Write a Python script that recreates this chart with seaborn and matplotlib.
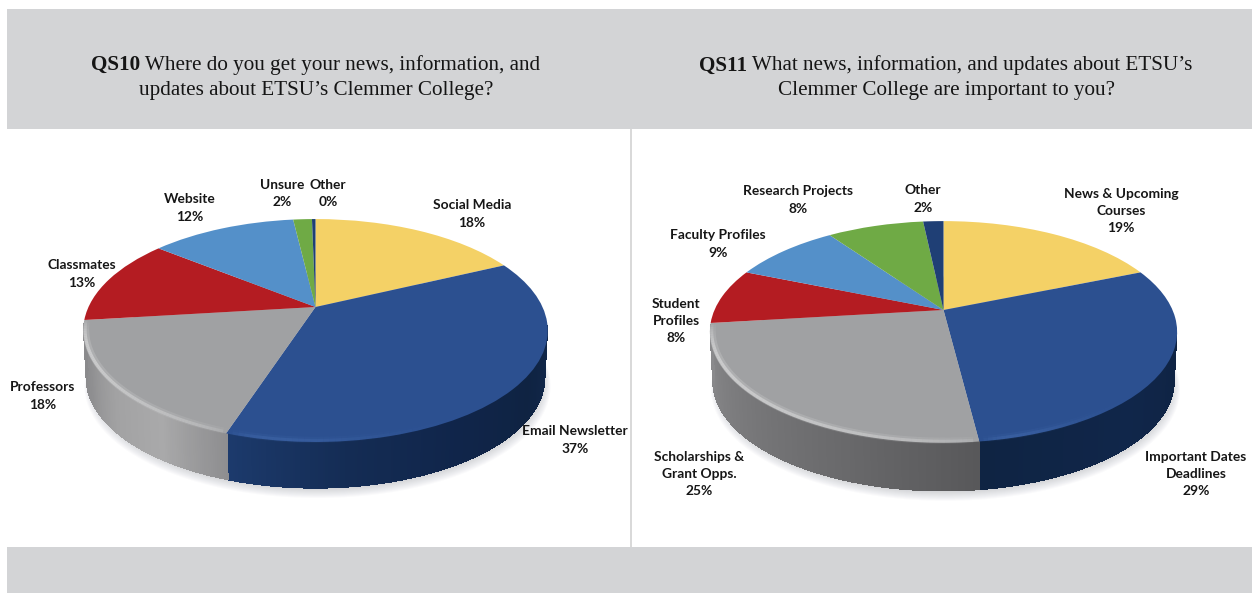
import numpy as np
import matplotlib
matplotlib.use("Agg")
import matplotlib.pyplot as plt
from matplotlib.collections import LineCollection, PolyCollection
from matplotlib.patches import Circle, Rectangle
from matplotlib.transforms import Transform
import seaborn as sns

# Survey results, clockwise from twelve o'clock
qs10_categories = ["Social Media", "Email Newsletter", "Professors", "Classmates",
                   "Website", "Unsure", "Other"]
qs10_values = [18.0, 37.1, 18.0, 12.6, 12.4, 1.6, 0.3]

qs11_categories = ["News & Upcoming\nCourses", "Important Dates\nDeadlines",
                   "Scholarships &\nGrant Opps.", "Student\nProfiles",
                   "Faculty Profiles", "Research Projects", "Other"]
qs11_values = [18.8, 29.2, 25.1, 8.1, 9.0, 8.1, 1.7]

qs10_question = ["QS10", " Where do you get your news, information, and",
                 "updates about ETSU\u2019s Clemmer College?"]
qs11_question = ["QS11", " What news, information, and updates about ETSU\u2019s",
                 "Clemmer College are important to you?"]

slice_colors = sns.color_palette(["#f4d166", "#2c5090", "#a0a1a3", "#b41c22",
                                  "#5490c9", "#6faa45", "#1f3f75"])

W, H = 1252, 593
sns.set_theme(style="white")
plt.rcParams["font.family"] = ["Lato", "DejaVu Sans"]


class TiltedDisc(Transform):
    """Perspective view of the unit disc, returned in pixel coordinates."""
    input_dims = 2
    output_dims = 2
    has_inverse = False

    def __init__(self, cx, cy, a, b, k, drop=0.0, scale=1.0, nudge=0.0):
        super().__init__()
        self.cx, self.cy, self.a, self.b, self.k = cx, cy, a, b, k
        self.drop, self.scale, self.nudge = drop, scale, nudge

    def transform_non_affine(self, values):
        xy = np.asarray(values, dtype=float)
        w = 1 + self.k * xy[:, 1]
        return np.column_stack([
            self.cx + self.nudge + self.scale * self.a * xy[:, 0] / w,
            self.cy + self.drop - self.scale * self.b * xy[:, 1] / w,
        ])


def rim(theta_deg):
    t = np.radians(theta_deg)
    return np.column_stack([np.sin(t), np.cos(t)])


def draw_disc(ax, values, cats, disc, depth, wall_stops, label_xy, bevel):
    top = TiltedDisc(*disc)
    inner = TiltedDisc(*disc, scale=0.996)
    base = TiltedDisc(*disc, drop=depth, scale=0.985)

    # Soft shadow under the disc, thrown slightly down and to the right
    for i in range(12):
        shadow = TiltedDisc(*disc, drop=depth + 2 + i * 0.55, scale=0.965 + i * 0.0035, nudge=2)
        ax.add_patch(Circle((0, 0), 1, color="#6f7480", alpha=0.03, lw=0, zorder=1,
                            transform=shadow + ax.transData, clip_on=False))

    wedges, _ = ax.pie(values, startangle=90, counterclock=False, colors=slice_colors,
                       wedgeprops={"linewidth": 0, "zorder": 3})
    for w in wedges:
        w.set_transform(top + ax.transData)

    edges = np.cumsum([0] + list(values)) / sum(values) * 360

    # Side wall, shaded slice by slice; it stops where the rim turns out of view
    for i, stops in wall_stops.items():
        t0, t1 = max(edges[i], 100), min(edges[i + 1], 262)
        n = max(int(t1 - t0) * 2, 2)
        shades = sns.blend_palette(stops, n)
        ths = np.linspace(t0, t1, n + 1)
        upper = inner.transform_non_affine(rim(ths))
        lower = base.transform_non_affine(rim(ths))
        polys = [np.vstack([upper[j], upper[j + 1], lower[j + 1], lower[j]]) for j in range(n)]
        ax.add_collection(PolyCollection(polys, facecolors=shades, edgecolors=shades,
                                         linewidths=1.0, antialiaseds=False, zorder=2))

    # Bevel highlight along the front edge of the top face
    for i, (col, lo, hi, power) in bevel.items():
        t0, t1 = max(edges[i], 100), min(edges[i + 1], 264)
        ths = np.linspace(t0, t1, 80)
        rgba = np.tile(matplotlib.colors.to_rgba(col), (79, 1))
        fade = np.linspace(0, 1, 79) ** power * (1 - np.linspace(0, 1, 79) ** 12)
        for lw, inset, weight in [(4.5, 0.988, 0.3), (2.2, 0.992, 0.7)]:
            pts = TiltedDisc(*disc, drop=-0.5, scale=inset).transform_non_affine(rim(ths))
            segs = np.stack([pts[:-1], pts[1:]], axis=1)
            rgba[:, 3] = (lo + (hi - lo) * fade) * weight
            ax.add_collection(LineCollection(segs, colors=rgba.copy(), linewidths=lw, zorder=4))

    for name, val, (x, y) in zip(cats, values, label_xy):
        ax.text(x, y, f"{name}\n{val:.0f}%", ha="center", va="center", fontsize=9.9,
                fontweight="bold", color="#161616", linespacing=1.52, zorder=6)


def draw_question(fig, ax, parts, xc, y1, y2):
    kw = dict(fontsize=TITLE_SIZE, color="#151515", family="Liberation Serif",
              va="center", zorder=6)
    a = ax.text(0, y1, parts[0], fontweight="bold", ha="left", **kw)
    b = ax.text(0, y1, parts[1], ha="left", **kw)
    r = fig.canvas.get_renderer()
    wa, wb = a.get_window_extent(r).width, b.get_window_extent(r).width
    space = wb + wa
    a.set_x(xc - space / 2)
    b.set_x(xc - space / 2 + wa)
    ax.text(xc, y2, parts[2], ha="center", **kw)


TITLE_SIZE = 15.2

fig = plt.figure(figsize=(W / 100, H / 100), dpi=100, facecolor="white")
ax = fig.add_axes([0, 0, 1, 1])

qs10_walls = {1: ["#11284c", "#0f2342", "#10254a", "#142c54", "#1c3a6c"],
              2: ["#8e8e90", "#a9a9aa", "#a2a2a3", "#8f8f91", "#8a8a8c"]}
qs11_walls = {1: ["#0f2342", "#10264a", "#0f2443"],
              2: ["#58585a", "#6a6a6c", "#7a7a7c", "#8a8a8c"]}
qs_bevel = {1: ("#5f8ad0", 0.0, 0.6, 5.0), 2: ("#f0f0f0", 0.05, 0.7, 0.4)}

qs10_labels_xy = [(472, 214), (575, 440), (43, 396), (82, 274), (190, 208), (282, 193.5), (328, 193.5)]
qs11_labels_xy = [(1121, 211), (1196, 474), (699, 474), (676, 321), (718, 244), (798, 200), (923, 199)]

draw_disc(ax, qs10_values, qs10_categories, (315.5, 307, 227, 106.5, 0.211), 47.5,
          qs10_walls, qs10_labels_xy, qs_bevel)
draw_disc(ax, qs11_values, qs11_categories, (943.5, 310, 229, 106.5, 0.198), 49.5,
          qs11_walls, qs11_labels_xy, qs_bevel)

ax.set_xlim(0, W)
ax.set_ylim(H, 0)
ax.set_aspect("auto")
ax.axis("off")

# Header and footer bands with the panel divider
band = "#d3d4d6"
ax.add_patch(Rectangle((7, 9), W - 7, 120, color=band, lw=0, zorder=0))
ax.add_patch(Rectangle((7, 547), W - 7, H - 547, color=band, lw=0, zorder=0))
ax.add_patch(Rectangle((630, 129), 2.2, 418, color="#d9d9d9", lw=0, zorder=0))

fig.canvas.draw()
draw_question(fig, ax, qs10_question, 316, 65, 90)
draw_question(fig, ax, qs11_question, 946, 65.5, 90)

fig.savefig("out.png", dpi=100, facecolor="white")
